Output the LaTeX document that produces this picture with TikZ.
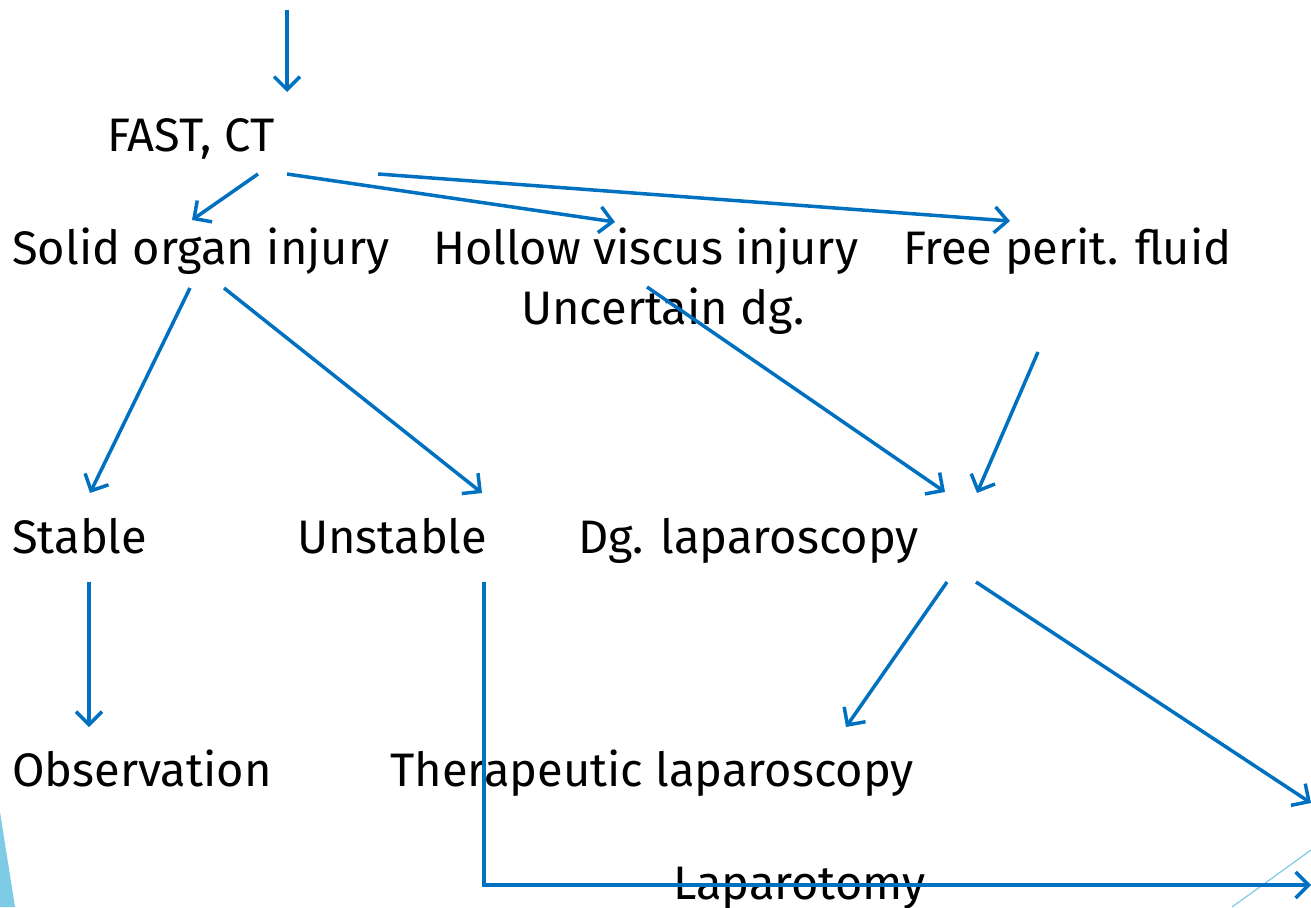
\documentclass[tikz,border=0pt]{standalone}
\usepackage{fontspec}
\setmainfont{Fira Sans}
\usepackage{tikz}
\usetikzlibrary{arrows.meta}
\definecolor{flowblue}{RGB}{0,112,192}
\definecolor{slideblue}{RGB}{126,203,230}

\begin{document}
\begin{tikzpicture}[x=1pt,y=-1pt,>={Straight Barb[length=13pt,width=26pt]},
	lbl/.style={anchor=base west,inner sep=0pt,font=\fontsize{47}{56}\selectfont},
	flow/.style={draw=flowblue,line width=3.5pt,->}]
	\useasboundingbox (0,0) rectangle (1311,907);
	% slide decoration
	\fill[slideblue] (0,812) -- (15,907) -- (0,907) -- cycle;
	\draw[slideblue,line width=1.2pt] (1232,907) -- (1311,850);
	% labels
	\node[lbl] (fast)     at (107,151) {FAST, CT};
	\node[lbl] (solid)    at (12,264)  {Solid organ injury};
	\node[lbl] (hollow)   at (433,264) {Hollow viscus injury};
	\node[lbl] (uncert)   at (521,324) {Uncertain dg.};
	\node[lbl] (free)     at (903,264) {Free perit. fluid};
	\node[lbl] (stable)   at (12,553)  {Stable};
	\node[lbl] (unstable) at (297,553) {Unstable};
	\node[lbl] (dglap)    at (578,553) {Dg. laparoscopy};
	\node[lbl] (obs)      at (12,786)  {Observation};
	\node[lbl] (therlap)  at (390,786) {Therapeutic laparoscopy};
	\node[lbl] (lapar)    at (673,899) {Laparotomy};
	% arrow ends
	\coordinate (entry)  at (287,10);
	\coordinate (fastin) at (287,92);
	\coordinate (f_1) at (258,174);  \coordinate (s_in) at (192,220);
	\coordinate (f_2) at (287,174);  \coordinate (h_in) at (615,222);
	\coordinate (f_3) at (378,174);  \coordinate (fr_in) at (1010,221);
	\coordinate (s_1) at (190,288);  \coordinate (st_in) at (90,493);
	\coordinate (s_2) at (224,288);  \coordinate (un_in) at (482,493);
	\coordinate (u_1) at (647,287);  \coordinate (dg_in1) at (945,492);
	\coordinate (fr_1) at (1038,352); \coordinate (dg_in2) at (977,493);
	\coordinate (st_1) at (89,582);  \coordinate (ob_in) at (89,727);
	\coordinate (dg_1) at (947,582); \coordinate (th_in) at (846,727);
	\coordinate (dg_2) at (976,582); \coordinate (edge_r) at (1311,803);
	\coordinate (un_1) at (484,582); \coordinate (lp_in) at (1311,885);
	\foreach \from/\to in {entry/fastin, f_1/s_in, f_2/h_in, f_3/fr_in,
		s_1/st_in, s_2/un_in, u_1/dg_in1, fr_1/dg_in2,
		st_1/ob_in, dg_1/th_in, dg_2/edge_r}
		\draw[flow] (\from) -- (\to);
	\draw[flow] (un_1) |- (lp_in);
\end{tikzpicture}
\end{document}
